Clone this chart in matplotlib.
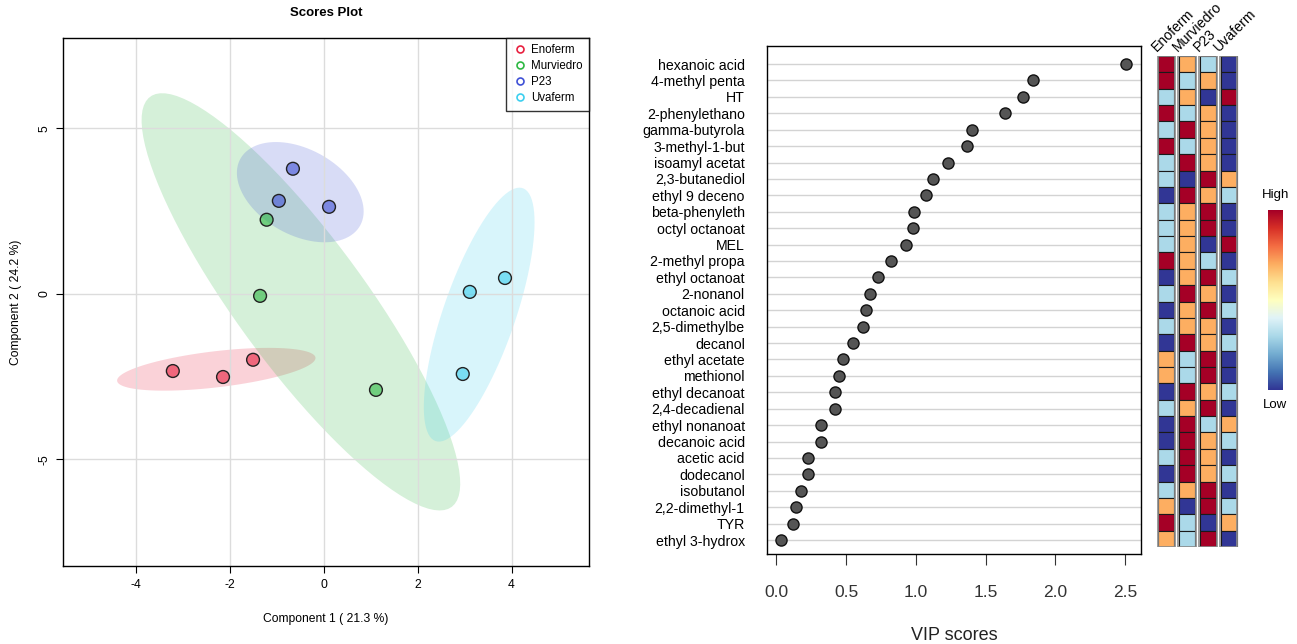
"""
Scores plot (PLS-DA) with 95% ellipses and VIP score dot chart with group heatmap.
"""

################################################################################
#
# import modules
#
import numpy as np
import matplotlib.pyplot as plt
from matplotlib.colors import ListedColormap

plt.rcParams['font.family'] = ['Liberation Sans', 'DejaVu Sans']
plt.rcParams['axes.unicode_minus'] = False

################################################################################
#
# data
#
groups = ['Enoferm', 'Murviedro', 'P23', 'Uvaferm']
group_colors = ['#E8203F', '#2DB842', '#3F51D6', '#3CCFEF']

comp1 = {
    'Enoferm': [-3.22, -2.15, -1.51],
    'Murviedro': [-1.22, -1.36, 1.11],
    'P23': [-0.66, -0.96, 0.11],
    'Uvaferm': [3.86, 3.11, 2.96],
}
comp2 = {
    'Enoferm': [-2.33, -2.51, -1.99],
    'Murviedro': [2.24, -0.06, -2.90],
    'P23': [3.78, 2.81, 2.63],
    'Uvaferm': [0.48, 0.06, -2.42],
}

features = ['hexanoic acid', '4-methyl penta', 'HT', '2-phenylethano',
            'gamma-butyrola', '3-methyl-1-but', 'isoamyl acetat',
            '2,3-butanediol', 'ethyl 9 deceno', 'beta-phenyleth',
            'octyl octanoat', 'MEL', '2-methyl propa', 'ethyl octanoat',
            '2-nonanol', 'octanoic acid', '2,5-dimethylbe', 'decanol',
            'ethyl acetate', 'methionol', 'ethyl decanoat', '2,4-decadienal',
            'ethyl nonanoat', 'decanoic acid', 'acetic acid', 'dodecanol',
            'isobutanol', '2,2-dimethyl-1', 'TYR', 'ethyl 3-hydrox']
vip = [2.51, 1.84, 1.77, 1.64, 1.40, 1.37, 1.23, 1.12, 1.07, 0.99,
       0.98, 0.93, 0.82, 0.73, 0.67, 0.64, 0.62, 0.55, 0.48, 0.45,
       0.42, 0.42, 0.32, 0.32, 0.23, 0.23, 0.18, 0.14, 0.12, 0.03]

# relative level of each group per feature (0 = low ... 3 = high)
level_enoferm = [3, 3, 1, 3, 1, 3, 1, 1, 0, 1, 1, 1, 3, 0, 1,
                 0, 1, 0, 2, 2, 0, 1, 0, 0, 1, 0, 1, 2, 3, 2]
level_murviedro = [2, 1, 2, 1, 3, 1, 3, 0, 3, 2, 2, 2, 2, 2, 3,
                   2, 2, 3, 1, 1, 3, 2, 3, 3, 3, 3, 2, 0, 1, 1]
level_p23 = [1, 2, 0, 2, 2, 2, 2, 3, 2, 3, 3, 0, 1, 3, 2,
             3, 2, 2, 3, 3, 2, 3, 1, 2, 2, 2, 3, 3, 0, 3]
level_uvaferm = [0, 0, 3, 0, 0, 0, 0, 2, 1, 0, 0, 3, 0, 1, 0,
                 1, 0, 1, 0, 0, 1, 0, 2, 1, 0, 1, 0, 1, 2, 0]


def conf_ellipse(x, y, t=2.4477, n=100):
    # 95% confidence ellipse from the sample covariance
    x = np.asarray(x)
    y = np.asarray(y)
    vals, vecs = np.linalg.eigh(np.cov(x, y))
    a = np.linspace(0, 2 * np.pi, n)
    circ = np.vstack([np.cos(a), np.sin(a)]) * np.sqrt(vals)[:, None] * t
    pts = vecs @ circ
    return pts[0] + x.mean(), pts[1] + y.mean()


fig = plt.figure(figsize=(12.97, 6.44), dpi=100)

################################################################################
#
# left: scores plot
#
ax1 = fig.add_axes([0.0486, 0.1211, 0.4055, 0.8199])
ax1.set_xlim(-5.56, 5.65)
ax1.set_ylim(-8.22, 7.73)
ax1.set_xticks([-4, -2, 0, 2, 4])
ax1.set_yticks([-5, 0, 5])
ax1.grid(True, color='#dcdcdc', lw=1, zorder=0)

for g, c in zip(groups, group_colors):
    ex, ey = conf_ellipse(comp1[g], comp2[g])
    ax1.fill(ex, ey, color=c, alpha=0.2, lw=0, zorder=1)
for g, c in zip(groups, group_colors):
    ax1.scatter(comp1[g], comp2[g], s=85, facecolor=c, alpha=0.6,
                edgecolor='none', zorder=3)
    ax1.scatter(comp1[g], comp2[g], s=85, facecolor='none',
                edgecolor='#222222', lw=1, zorder=4)
    ax1.plot([], [], 'o', mfc='none', mec=c, mew=1.2, ms=5, label=g)

leg = ax1.legend(loc='upper right', fontsize=8.3, frameon=True, fancybox=False,
                 borderaxespad=0, handletextpad=0.4, labelspacing=0.35,
                 handlelength=1.2, borderpad=0.55)
leg.get_frame().set_edgecolor('black')
leg.get_frame().set_linewidth(1)

for s in ax1.spines.values():
    s.set_linewidth(1)
ax1.tick_params(labelsize=8.7, length=5, pad=4)
plt.setp(ax1.get_yticklabels(), rotation=90, va='center')
ax1.set_title('Scores Plot', fontsize=9.5, fontweight='bold', pad=16)
ax1.set_xlabel('Component 1 ( 21.3 %)', fontsize=8.7, labelpad=16)
ax1.set_ylabel('Component 2 ( 24.2 %)', fontsize=8.7, labelpad=12)

################################################################################
#
# right: VIP scores dot chart
#
n = len(features)
ypos = np.arange(n, 0, -1)

ax2 = fig.add_axes([0.5914, 0.1398, 0.2884, 0.7888])
ax2.set_xlim(-0.067, 2.615)
ax2.set_ylim(0.15, 31.1)
ax2.set_yticks(ypos)
ax2.set_yticklabels(features, fontsize=10.2)
ax2.yaxis.grid(True, color='#d3d3d3', lw=1, zorder=0)
ax2.scatter(vip, ypos, s=64, facecolor='#555555', edgecolor='#111111',
            lw=1, zorder=3)
ax2.set_xticks([0.0, 0.5, 1.0, 1.5, 2.0, 2.5])
ax2.set_xticklabels(['0.0', '0.5', '1.0', '1.5', '2.0', '2.5'])
ax2.tick_params(axis='y', length=0, pad=16)
ax2.tick_params(axis='x', labelsize=12.5, length=8, pad=14, colors='#333333')
ax2.set_xlabel('VIP scores', fontsize=13, labelpad=20, color='#222222')
for s in ax2.spines.values():
    s.set_linewidth(1)

################################################################################
#
# heatmap of group levels next to the dot chart
#
levels = [level_enoferm, level_murviedro, level_p23, level_uvaferm]
heat_colors = ['#313695', '#ABD9E9', '#FDAE61', '#A50026']

ax3 = fig.add_axes([0.8913, 0.1506, 0.0640, 0.7624])
ax3.set_xlim(-0.5, 3.5)
ax3.set_ylim(0.5, n + 0.5)
for j, lv in enumerate(levels):
    ax3.bar(np.full(n, j), 1, bottom=ypos - 0.5, width=0.78,
            color=[heat_colors[v] for v in lv], edgecolor='#1a1a1a', lw=0.8)
    ax3.bar(j, n, bottom=0.5, width=0.84, fill=False, edgecolor='#8c8c8c',
            lw=1.2)
    ax3.text(j - 0.35, n + 0.6, groups[j], rotation=45, rotation_mode='anchor',
             ha='left', va='bottom', fontsize=10.2)
ax3.axis('off')

# colour key
cmap = ListedColormap(plt.get_cmap('RdYlBu_r')(np.linspace(0, 1, 256)))
ax4 = fig.add_axes([0.9777, 0.3944, 0.0108, 0.2795])
ax4.imshow(np.linspace(1, 0, 256)[:, None], aspect='auto', cmap=cmap)
ax4.axis('off')
fig.text(0.9831, 0.6880, 'High', ha='center', va='bottom', fontsize=9.5)
fig.text(0.9831, 0.3800, 'Low', ha='center', va='top', fontsize=9.5)

plt.savefig('out.png', dpi=100)
